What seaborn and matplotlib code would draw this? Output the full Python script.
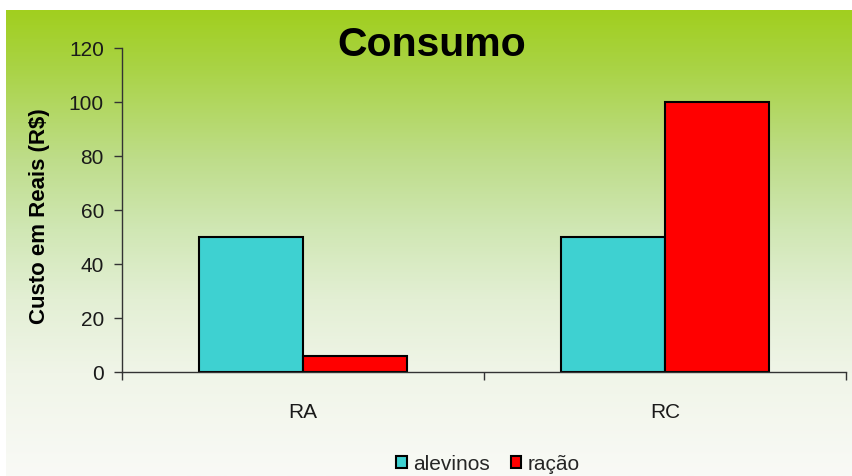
import numpy as np
import pandas as pd
import matplotlib
matplotlib.use("Agg")
import matplotlib.pyplot as plt
from matplotlib.colors import LinearSegmentedColormap
import seaborn as sns

# Chart data
categorias = ["RA", "RC"]
series = ["alevinos", "ração"]
alevinos = [50, 50]
racao = [6, 100]
y_ticks = [0, 20, 40, 60, 80, 100, 120]

df = pd.DataFrame({
    "cenario": categorias * 2,
    "item": [series[0]] * len(categorias) + [series[1]] * len(categorias),
    "custo": alevinos + racao,
})

sns.set_style("white")
plt.rcParams["font.family"] = ["Liberation Sans", "DejaVu Sans"]

W, H = 853, 476
fig = plt.figure(figsize=(W / 100, H / 100), dpi=100, facecolor="white")

# Green-to-white vertical gradient panel behind the chart
bg = fig.add_axes([6 / W, 0, 1 - 6 / W, 1 - 10 / H], zorder=0)
grad_cmap = LinearSegmentedColormap.from_list(
    "fundo",
    [
        (0.00, "#A1CF1F"),
        (0.12, "#A9D344"),
        (0.32, "#BEDD8A"),
        (0.47, "#D0E7B4"),
        (0.62, "#E3EFD4"),
        (0.78, "#F0F5E8"),
        (1.00, "#F9FAF6"),
    ],
)
grad = np.linspace(0, 1, 512).reshape(-1, 1)
bg.imshow(grad, aspect="auto", cmap=grad_cmap, extent=[0, 1, 0, 1], origin="upper")
bg.set_axis_off()

ax = fig.add_axes([122 / W, (H - 372) / H, (846 - 122) / W, (372 - 48) / H], zorder=1)
ax.set_facecolor("none")

sns.barplot(
    data=df, x="cenario", y="custo", hue="item",
    palette=["#3ED1D1", "#FF0000"], width=0.572,
    edgecolor="black", linewidth=1.5, saturation=1,
    ax=ax,
)

ax.set_xlim(-0.5, 1.5)
ax.set_ylim(0, 120)
ax.set_yticks(y_ticks)
ax.set_yticklabels([str(v) for v in y_ticks], fontsize=15, color="#1a1a1a")
ax.tick_params(axis="y", direction="out", length=6, width=1, color="#333333", pad=7, left=True)

# Category separators as major ticks, names as minor ticks
ax.set_xticks([-0.5, 0.5, 1.5])
ax.set_xticklabels([])
ax.tick_params(axis="x", which="major", direction="out", length=6, width=1, color="#333333", bottom=True)
ax.set_xticks([0, 1], minor=True)
ax.set_xticklabels(categorias, minor=True, fontsize=15, color="#1a1a1a")
ax.tick_params(axis="x", which="minor", length=0, pad=22)

ax.set_xlabel("")
ax.set_ylabel("")
for side in ["top", "right"]:
    ax.spines[side].set_visible(False)
for side in ["left", "bottom"]:
    ax.spines[side].set_color("#333333")
    ax.spines[side].set_linewidth(1)

handles, labels = ax.get_legend_handles_labels()
ax.legend_.remove()
fig.legend(
    handles, labels, loc="center", bbox_to_anchor=(488 / W, 12 / H),
    ncol=2, frameon=False, fontsize=15, handlelength=0.5, handleheight=0.5,
    handletextpad=0.3, columnspacing=1.0, borderaxespad=0,
)

fig.text(432 / W, 1 - 45 / H, "Consumo", ha="center", va="center",
         fontsize=29.5, fontweight="bold", color="black")
fig.text(40 / W, 1 - 216 / H, "Custo em Reais (R$)", ha="center", va="center",
         rotation=90, fontsize=16, fontweight="bold", color="black")

fig.savefig("out.png", dpi=100, facecolor="white")
